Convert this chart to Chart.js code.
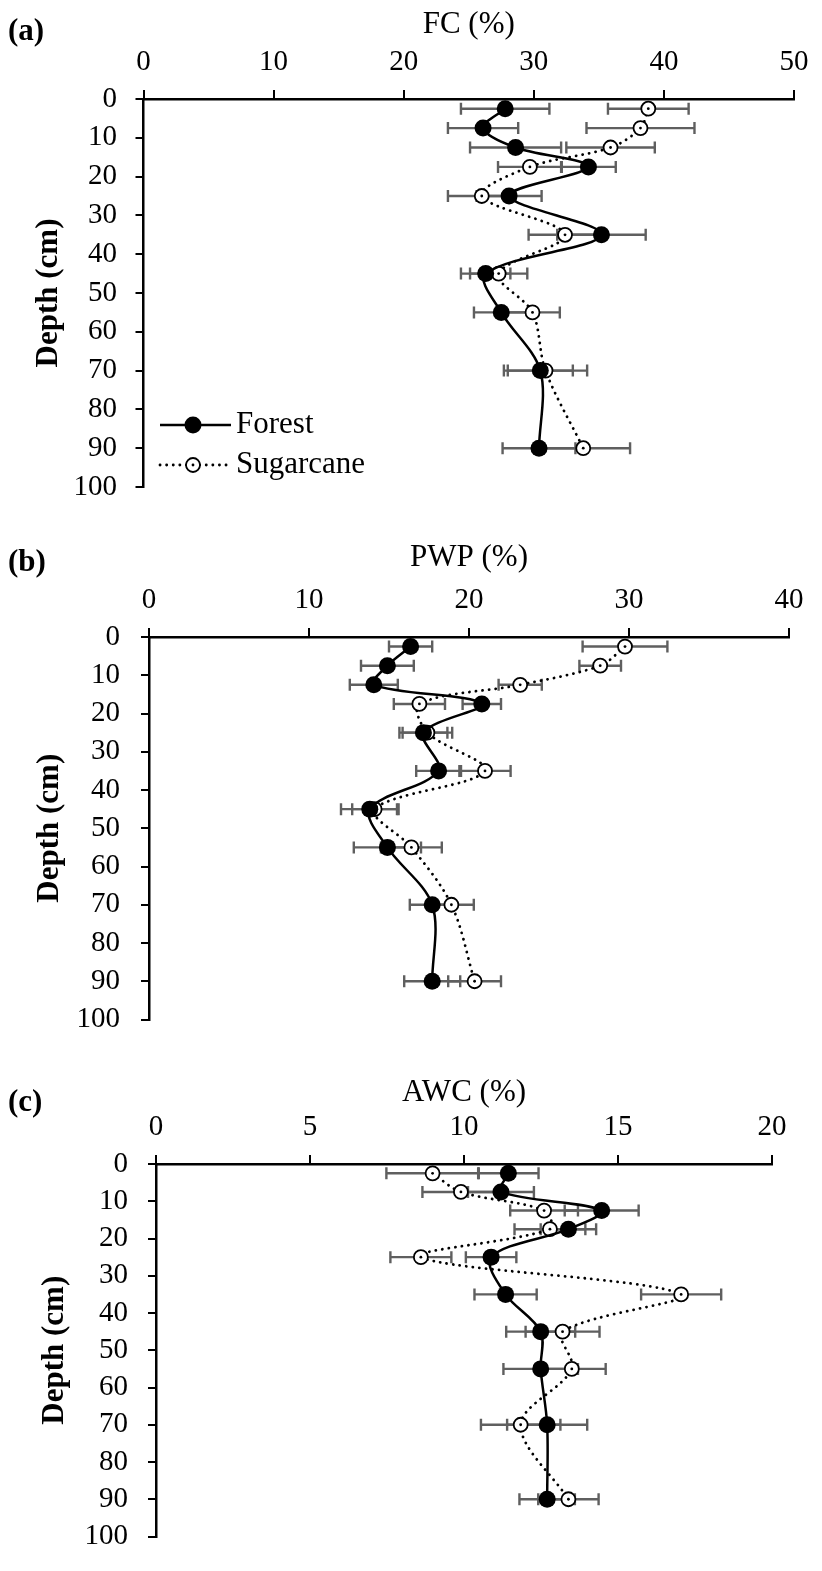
<!DOCTYPE html>
<html>
<head>
    <meta charset="UTF-8">
    <title>FC, PWP e AWC por profundidade</title>
    <script src="https://cdn.jsdelivr.net/npm/chart.js"></script>
    <style>
        body { margin: 0; background: #fff; }
        #wrap { position: relative; width: 822px; height: 1571px; }
        canvas { position: absolute; left: 0; }
    </style>
</head>
<body>
<div id="wrap">
    <canvas id="fc" width="822" height="525" style="top:0px"></canvas>
    <canvas id="pwp" width="822" height="530" style="top:525px"></canvas>
    <canvas id="awc" width="822" height="516" style="top:1055px"></canvas>
</div>

<script>
// profundidades (cm)
const depth = [2.5, 7.5, 12.5, 17.5, 25, 35, 45, 55, 70, 90];
const depthTicks = [0, 10, 20, 30, 40, 50, 60, 70, 80, 90, 100];

// (a) FC (%)
const fcForest = [27.8, 26.1, 28.6, 34.2, 28.1, 35.2, 26.3, 27.5, 30.5, 30.4];
const fcForestErr = [3.4, 2.7, 3.5, 2.1, 2.5, 3.4, 1.9, 2.1, 2.5, 2.8];
const fcSugar = [38.8, 38.2, 35.9, 29.7, 26.0, 32.4, 27.3, 29.9, 30.9, 33.8];
const fcSugarErr = [3.1, 4.15, 3.4, 2.45, 2.6, 2.8, 2.2, 2.1, 3.2, 3.6];

// (b) PWP (%)
const pwpForest = [16.35, 14.9, 14.05, 20.8, 17.15, 18.1, 13.8, 14.9, 17.7, 17.7];
const pwpForestErr = [1.35, 1.65, 1.5, 1.2, 1.5, 1.4, 1.8, 2.1, 1.4, 1.75];
const pwpSugar = [29.75, 28.2, 23.2, 16.9, 17.4, 21.0, 14.1, 16.4, 18.9, 20.35];
const pwpSugarErr = [2.65, 1.3, 1.35, 1.6, 1.55, 1.6, 1.4, 1.9, 1.4, 1.65];

// (c) AWC (%)
const awcForest = [11.44, 11.2, 14.47, 13.39, 10.88, 11.35, 12.49, 12.49, 12.7, 12.7];
const awcForestErr = [0.98, 1.07, 1.2, 0.9, 0.82, 1.01, 1.12, 1.21, 1.3, 0.9];
const awcSugar = [8.98, 9.9, 12.6, 12.79, 8.6, 17.05, 13.2, 13.5, 11.84, 13.39];
const awcSugarErr = [1.5, 1.25, 1.1, 1.15, 0.99, 1.3, 1.2, 1.1, 1.29, 0.98];

const serif = 'Liberation Serif';

// barras de erro horizontais
const errorBars = {
    id: 'errorBars',
    beforeDatasetsDraw(chart) {
        const ctx = chart.ctx;
        const xs = chart.scales.x, ys = chart.scales.y;
        ctx.save();
        ctx.strokeStyle = '#5f5f5f';
        ctx.lineWidth = 2.4;
        chart.data.datasets.forEach(ds => {
            ds.data.forEach((p, j) => {
                const e = ds.errors[j];
                const y = ys.getPixelForValue(p.y);
                const x0 = xs.getPixelForValue(p.x - e);
                const x1 = xs.getPixelForValue(p.x + e);
                ctx.beginPath();
                ctx.moveTo(x0, y); ctx.lineTo(x1, y);
                ctx.moveTo(x0, y - 6); ctx.lineTo(x0, y + 6);
                ctx.moveTo(x1, y - 6); ctx.lineTo(x1, y + 6);
                ctx.stroke();
            });
        });
        ctx.restore();
    },
    afterDatasetsDraw(chart) {
        // ponto central dos marcadores abertos
        const ctx = chart.ctx;
        const xs = chart.scales.x, ys = chart.scales.y;
        ctx.save();
        ctx.fillStyle = '#000';
        chart.data.datasets.forEach(ds => {
            if (!ds.centerDot) return;
            ds.data.forEach(p => {
                ctx.beginPath();
                ctx.arc(xs.getPixelForValue(p.x), ys.getPixelForValue(p.y), 1.4, 0, Math.PI * 2);
                ctx.fill();
            });
        });
        ctx.restore();
    }
};

// rótulo (a)/(b)/(c) e legenda
const decor = {
    id: 'decor',
    afterDraw(chart, args, opts) {
        const ctx = chart.ctx;
        ctx.save();
        ctx.fillStyle = '#000';
        ctx.textBaseline = 'middle';
        ctx.textAlign = 'left';
        ctx.font = 'bold 31px "' + serif + '"';
        ctx.fillText(opts.label, 8, opts.labelY);

        if (opts.legend) {
            ctx.font = '31px "' + serif + '"';
            // Forest
            ctx.strokeStyle = '#000';
            ctx.lineWidth = 2.5;
            ctx.beginPath(); ctx.moveTo(160, 425); ctx.lineTo(231, 425); ctx.stroke();
            ctx.beginPath(); ctx.arc(193, 425, 8.5, 0, Math.PI * 2); ctx.fill();
            ctx.fillText('Forest', 236, 425);
            // Sugarcane
            ctx.setLineDash([0.1, 6.5]);
            ctx.lineCap = 'round';
            ctx.lineWidth = 2.8;
            ctx.beginPath(); ctx.moveTo(160, 465); ctx.lineTo(231, 465); ctx.stroke();
            ctx.setLineDash([]);
            ctx.lineWidth = 1.8;
            ctx.fillStyle = '#fff';
            ctx.beginPath(); ctx.arc(193, 465, 7, 0, Math.PI * 2); ctx.fill(); ctx.stroke();
            ctx.fillStyle = '#000';
            ctx.beginPath(); ctx.arc(193, 465, 1.4, 0, Math.PI * 2); ctx.fill();
            ctx.fillText('Sugarcane', 236, 465);
        }
        ctx.restore();
    }
};

function pontos(vals) {
    return depth.map((d, i) => ({ x: vals[i], y: d }));
}

function painel(id, o) {
    const canvas = document.getElementById(id);
    new Chart(canvas, {
        type: 'scatter',
        data: {
            datasets: [{
                label: 'Forest',
                data: pontos(o.forest),
                errors: o.forestErr,
                showLine: true,
                borderColor: '#000',
                borderWidth: 2.5,
                tension: 0.33,
                pointRadius: 8.5,
                pointBackgroundColor: '#000',
                pointBorderWidth: 0
            }, {
                label: 'Sugarcane',
                data: pontos(o.sugar),
                errors: o.sugarErr,
                centerDot: true,
                showLine: true,
                borderColor: '#000',
                borderWidth: 2.8,
                borderDash: [0.1, 6.5],
                borderCapStyle: 'round',
                tension: 0.33,
                pointRadius: 7,
                pointBackgroundColor: '#fff',
                pointBorderColor: '#000',
                pointBorderWidth: 1.8
            }]
        },
        options: {
            responsive: false,
            animation: false,
            layout: { padding: { left: 0, top: 0, right: canvas.width - o.right, bottom: canvas.height - o.bottom } },
            plugins: {
                legend: { display: false },
                tooltip: { enabled: false },
                decor: { label: o.label, labelY: o.labelY, legend: o.legend }
            },
            scales: {
                x: {
                    type: 'linear',
                    position: 'top',
                    min: 0,
                    max: o.xmax,
                    ticks: { stepSize: o.step, color: '#000', padding: 13.5, font: { family: serif, size: 29, lineHeight: 1 } },
                    grid: { drawOnChartArea: false, drawTicks: true, tickLength: 9, color: '#000', lineWidth: 2 },
                    border: { display: true, color: '#000', width: 2.5 },
                    title: { display: true, text: o.title, color: '#000', padding: { top: o.titleY - 15.5, bottom: 0 }, font: { family: serif, size: 31, lineHeight: 1 } },
                    afterFit: s => { s.height = o.top; }
                },
                y: {
                    type: 'linear',
                    reverse: true,
                    min: 0,
                    max: 100,
                    afterBuildTicks: s => { s.ticks = depthTicks.map(v => ({ value: v })); },
                    ticks: { color: '#000', padding: o.yPad, font: { family: serif, size: 29, lineHeight: 1 } },
                    grid: { drawOnChartArea: false, drawTicks: true, tickLength: 8, color: '#000', lineWidth: 2 },
                    border: { display: true, color: '#000', width: 2.5 },
                    title: { display: true, text: 'Depth (cm)', color: '#000', padding: { top: o.depthX - 15.5, bottom: 0 }, font: { family: serif, size: 31, weight: 'bold', lineHeight: 1 } },
                    afterFit: s => { s.width = o.left; }
                }
            }
        },
        plugins: [errorBars, decor]
    });
}

painel('fc', {
    forest: fcForest, forestErr: fcForestErr, sugar: fcSugar, sugarErr: fcSugarErr,
    title: 'FC (%)', xmax: 50, step: 10, label: '(a)', labelY: 32, legend: true,
    left: 143.5, right: 803, top: 99, bottom: 487, titleY: 25, yPad: 18.5, depthX: 49
});
painel('pwp', {
    forest: pwpForest, forestErr: pwpForestErr, sugar: pwpSugar, sugarErr: pwpSugarErr,
    title: 'PWP (%)', xmax: 40, step: 10, label: '(b)', labelY: 38, legend: false,
    left: 149, right: 789, top: 112, bottom: 500, titleY: 33, yPad: 21, depthX: 50
});
painel('awc', {
    forest: awcForest, forestErr: awcForestErr, sugar: awcSugar, sugarErr: awcSugarErr,
    title: 'AWC (%)', xmax: 20, step: 5, label: '(c)', labelY: 48, legend: false,
    left: 156, right: 772, top: 109, bottom: 493, titleY: 38, yPad: 20, depthX: 55
});
</script>
</body>
</html>
